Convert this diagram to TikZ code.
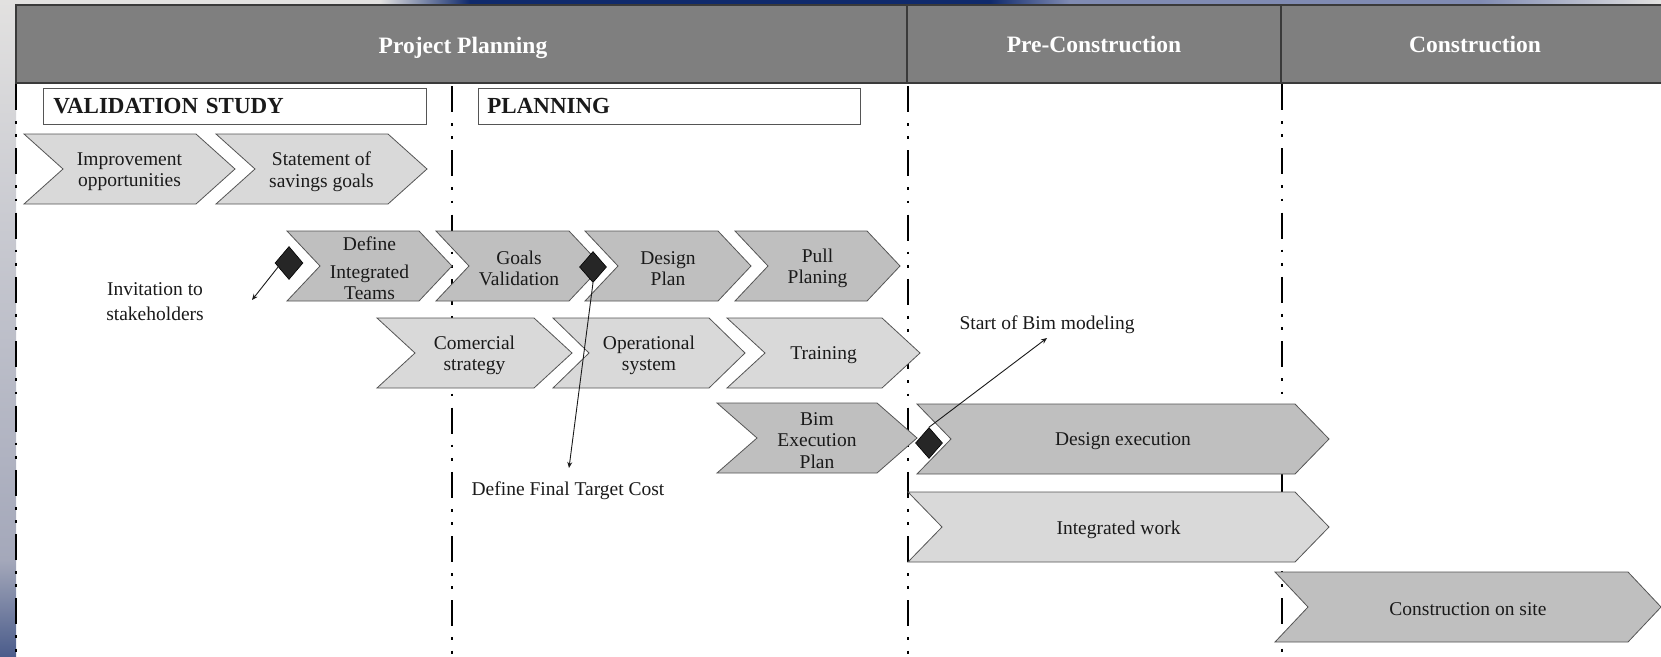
\documentclass[tikz,border=0pt]{standalone}
\usepackage{fontspec}
\setmainfont{Liberation Serif}
\usetikzlibrary{shapes.geometric,arrows.meta}
\definecolor{hdr}{HTML}{7F7F7F}
\definecolor{hdredge}{HTML}{3A3A3A}
\definecolor{chlight}{HTML}{D9D9D9}
\definecolor{chdark}{HTML}{BFBFBF}
\definecolor{chedge}{HTML}{555555}
\definecolor{dmd}{HTML}{262626}
\definecolor{ink}{HTML}{1A1A1A}
\definecolor{slgray}{HTML}{E2E1E0}
\definecolor{slblue}{HTML}{102A6C}
\definecolor{slmid}{HTML}{808BB2}
\definecolor{slleft}{HTML}{A4A8BA}
\tikzset{
  chev/.style={draw=chedge, line width=0.8pt, line join=miter},
  light/.style={fill=chlight},
  dark/.style={fill=chdark},
  ctext/.style={inner sep=0pt, align=center, text=ink, font=\fontsize{19.5}{21.5}\selectfont},
  htext/.style={inner sep=0pt, text=white, font=\fontsize{23.5}{26}\selectfont\bfseries},
  lbox/.style={draw=chedge, line width=0.8pt, fill=white, anchor=north west, minimum height=36pt,
    align=left, text=ink, font=\fontsize{23}{26}\selectfont\bfseries},
  divline/.style={draw=black, line width=2.8pt, dash pattern=on 26pt off 11pt on 2.8pt off 10.5pt on 2.8pt off 11.2pt},
  mile/.style={diamond, draw=black, fill=dmd, line width=0.6pt, minimum width=28pt, minimum height=33pt, inner sep=0pt},
  callout/.style={draw=ink, line width=0.9pt, -{Stealth[length=6pt,width=5pt]}},
  note/.style={inner sep=0pt, align=center, text=ink, font=\fontsize{19.5}{25}\selectfont},
}
% #1 name, #2 left x, #3 top y, #4 width, #5 height, #6 point depth, #7 style, #8 text
\newcommand\chevshape[8]{%
  \draw[chev,#7] (#2,#3) -- ({#2+#4-#6},#3) -- ({#2+#4},{#3+#5/2}) -- ({#2+#4-#6},{#3+#5})
    -- (#2,{#3+#5}) -- ({#2+#6},{#3+#5/2}) -- cycle;
  \node[ctext] (#1) at ({#2+#4/2},{#3+#5/2+2.5}) {#8};
}
\begin{document}
\begin{tikzpicture}[x=1pt,y=-1pt]
\useasboundingbox (0,0) rectangle (1661,656);
% slide background strips
\fill[white] (0,0) rectangle (1661,656);
\fill[top color=slgray, bottom color=slleft] (0,0) rectangle (16,560);
\fill[top color=slleft, bottom color=slblue!60!slleft] (0,560) rectangle (16,656);
\fill[slgray] (0,0) rectangle (380,5);
\fill[left color=slgray, right color=slblue] (380,0) rectangle (470,5);
\fill[slblue] (470,0) rectangle (990,5);
\fill[left color=slblue, right color=slmid] (990,0) rectangle (1070,5);
\fill[slmid] (1070,0) rectangle (1480,5);
\fill[left color=slmid, right color=slgray] (1480,0) rectangle (1661,5);
% header
\fill[hdr] (16,5) rectangle (1661,83);
\draw[hdredge, line width=1.2pt] (1661,5) -- (16,5) -- (16,83) -- (1661,83);
\draw[hdredge, line width=1.2pt] (907,5) -- (907,83);
\draw[hdredge, line width=1.2pt] (1281,5) -- (1281,83);
\node[htext] (hpp) at (463,48) {Project Planning};
\node[htext] (hpc) at (1094,44) {Pre-Construction};
\node[htext] (hc) at (1475,44) {Construction};
% phase divider lines
\draw[divline] (16,84) -- (16,656);
\draw[divline] (452,86) -- (452,656);
\draw[divline] (908,86) -- (908,656);
\draw[divline] (1282,84) -- (1282,656);
% stage boxes
\node[lbox, minimum width=383pt, text width=363pt, inner xsep=10pt] (vs) at (43,88) {VALIDATION STUDY};
\node[lbox, minimum width=382pt, text width=364pt, inner xsep=9pt] (pl) at (478,88) {PLANNING};
% row 1
\chevshape{imp}{24}{134}{211}{70}{39}{light}{Improvement\\opportunities}
\chevshape{sav}{216}{134}{211}{70}{39}{light}{Statement of\\savings goals}
% row 2
\chevshape{dit}{287}{231}{165}{70}{33}{dark}{Define\\[6pt]Integrated\\Teams}
\chevshape{gv}{436}{231}{166}{70}{33}{dark}{Goals\\Validation}
\chevshape{dp}{585}{231}{166}{70}{33}{dark}{Design\\Plan}
\chevshape{pp}{735}{231}{165}{70}{33}{dark}{Pull\\Planing}
% row 3
\chevshape{cs}{377}{318}{195}{70}{38}{light}{Comercial\\strategy}
\chevshape{os}{553}{318}{192}{70}{36}{light}{Operational\\system}
\chevshape{tr}{727}{318}{193}{70}{38}{light}{Training}
% row 4 and later phases
\chevshape{bep}{717}{403}{200}{70}{40}{dark}{Bim\\Execution\\Plan}
\chevshape{de}{917}{404}{412}{70}{34}{dark}{Design execution}
\chevshape{iw}{908}{492}{421}{70}{34}{light}{Integrated work}
\chevshape{cos}{1275}{572}{386}{70}{33}{dark}{Construction on site}
% milestones
\node[mile] (d1) at (289,263) {};
\node[mile, minimum width=27pt, minimum height=31pt] (d2) at (593,267) {};
\node[mile, minimum width=27pt, minimum height=31pt] (d3) at (929,443) {};
% callout targets and notes
\coordinate (t1) at (252,300);
\coordinate (t2) at (569,468);
\coordinate (t3) at (1047,338);
\draw[callout] (d1.200) -- (t1);
\draw[callout] (d2.south) -- (t2);
\draw[callout] (d3.north) -- (t3);
\node[note] (n1) at (155,302) {Invitation to\\stakeholders};
\node[note] (n2) at (568,491) {Define Final Target Cost};
\node[note] (n3) at (1047,325) {Start of Bim modeling};
\end{tikzpicture}
\end{document}
